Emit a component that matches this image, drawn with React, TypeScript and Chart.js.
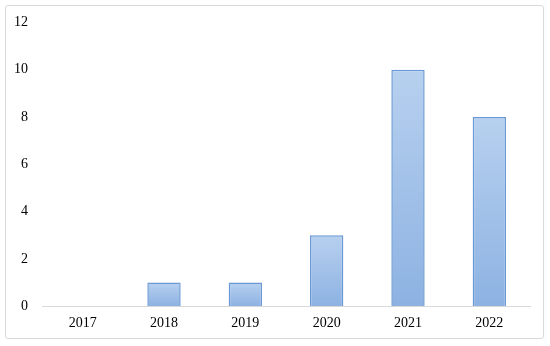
import React, { useEffect, useRef } from "react";
import { Chart, registerables } from "chart.js";

Chart.register(...registerables);

const categories = ["2017", "2018", "2019", "2020", "2021", "2022"];
const values = [0, 1, 1, 3, 10, 8];
const yMin = 0;
const yMax = 12;
const yStep = 2;

const FONT = "'Liberation Serif', 'DejaVu Serif', serif";

export default function App() {
  const ref = useRef<HTMLCanvasElement | null>(null);

  useEffect(() => {
    document.body.style.margin = "0";
    const canvas = ref.current;
    if (!canvas) return;
    const chart = new Chart(canvas, {
      type: "bar",
      data: {
        labels: categories,
        datasets: [
          {
            data: values,
            backgroundColor: (ctx: any) => {
              const chartObj = ctx.chart;
              const ys = chartObj.scales && chartObj.scales.y;
              if (!ys || ctx.raw === undefined || ctx.type !== "data") return "#a8c5ea";
              const top = ys.getPixelForValue(ctx.raw);
              const bot = ys.getPixelForValue(0);
              if (!isFinite(top) || !isFinite(bot) || top === bot) return "#a8c5ea";
              const g = chartObj.ctx.createLinearGradient(0, top, 0, bot);
              g.addColorStop(0, "#b7d0ef");
              g.addColorStop(1, "#8db2e2");
              return g;
            },
            borderColor: "#6a99d5",
            borderWidth: 1.5,
            barPercentage: 0.41,
            categoryPercentage: 1,
          },
        ],
      },
      options: {
        animation: false,
        responsive: false,
        maintainAspectRatio: false,
        layout: { padding: { left: 0, right: 20, top: 14, bottom: 5 } },
        plugins: {
          legend: { display: false },
          tooltip: { enabled: false },
        },
        scales: {
          x: {
            grid: { display: false, drawTicks: false },
            border: { display: true, color: "#d9d9d9", width: 1 },
            ticks: { color: "#000", font: { family: FONT, size: 14 }, padding: 9 },
          },
          y: {
            min: yMin,
            max: yMax,
            grid: { display: false, drawTicks: false },
            border: { display: false },
            ticks: {
              stepSize: yStep,
              color: "#000",
              font: { family: FONT, size: 14 },
              padding: 14,
            },
          },
        },
      },
    });
    return () => chart.destroy();
  }, []);

  return (
    <div style={{ position: "relative", width: 550, height: 346, background: "#fff" }}>
      <div
        style={{
          position: "absolute",
          left: 5,
          top: 5,
          width: 539,
          height: 334,
          border: "1px solid #d9d9d9",
          borderRadius: 3,
          boxSizing: "border-box",
        }}
      />
      <canvas ref={ref} width={550} height={346} style={{ position: "absolute", left: 0, top: 0 }} />
    </div>
  );
}
